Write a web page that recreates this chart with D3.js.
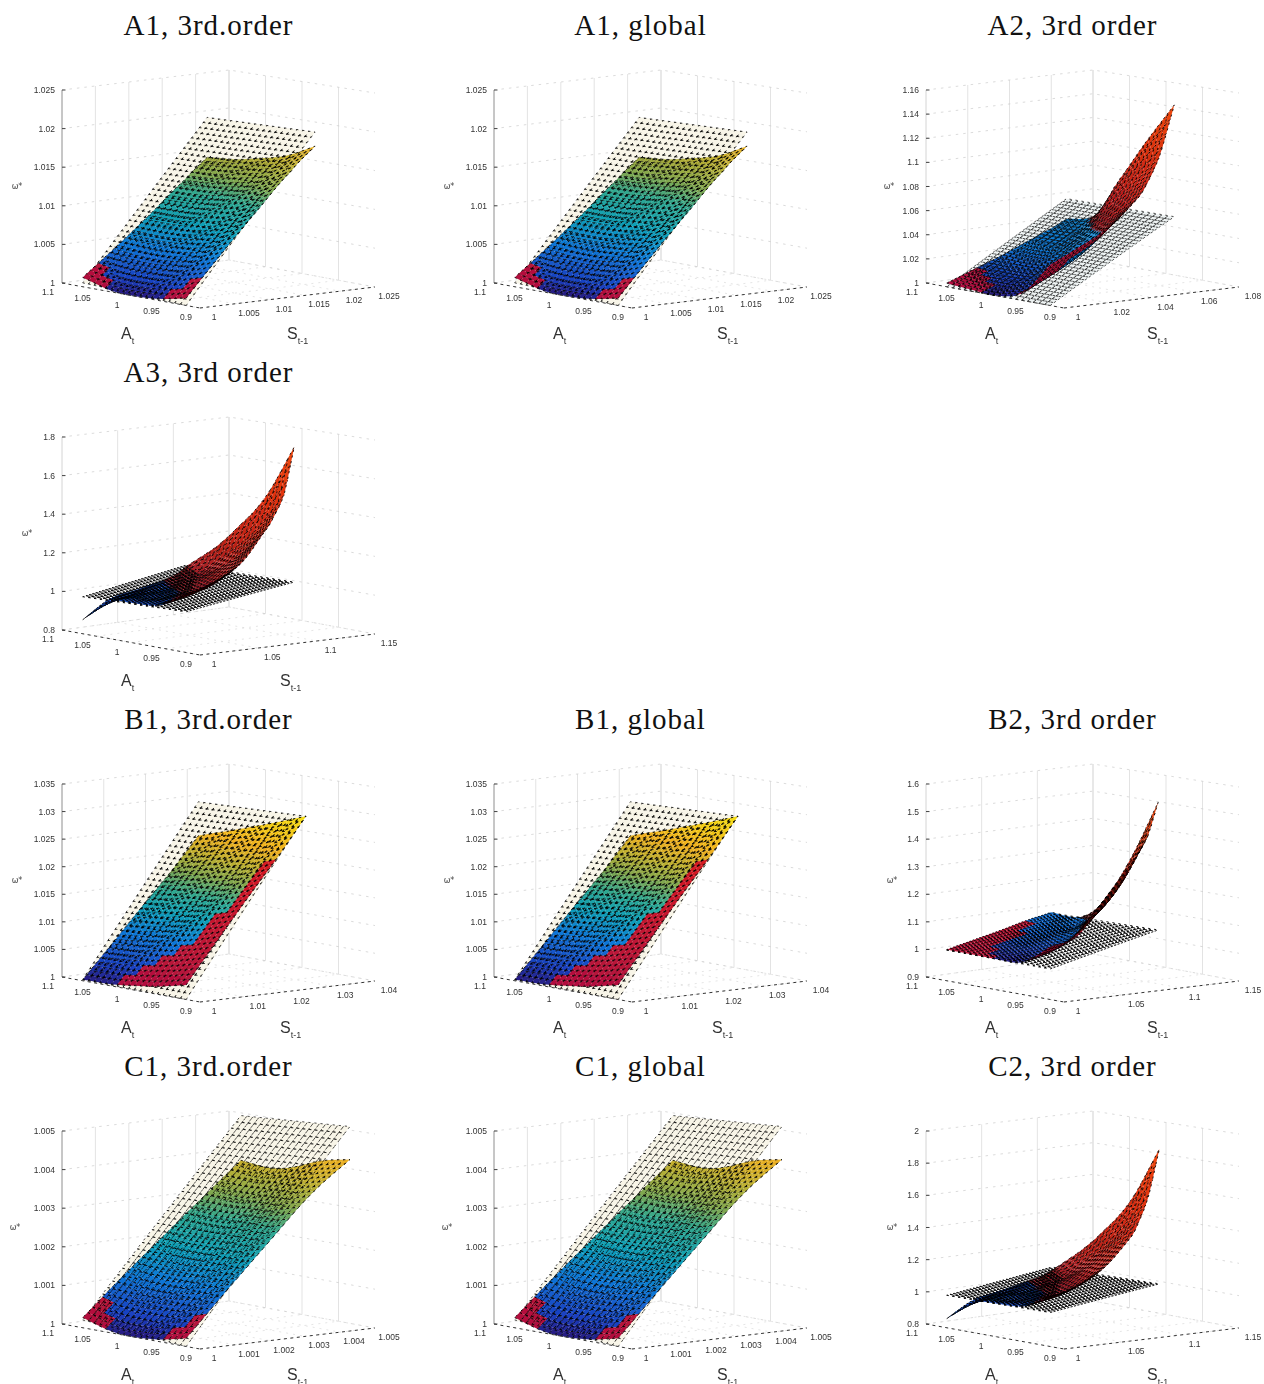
<!DOCTYPE html>
<html><head><meta charset="utf-8">
<script src="https://cdn.jsdelivr.net/npm/d3@7"></script>
<style>html,body{margin:0;padding:0;background:#fff;overflow:hidden}svg{display:block}</style>
</head><body><div id="chart"></div>
<script>
// ---------- shared ticks and knots ----------
const aTicks = [1.1, 1.05, 1, 0.95, 0.9];
const aKnots = [1.07, 1.03, 1, 0.96, 0.92];
const planeA = [1.07, 0.92];
const titles = ["A1, 3rd.order","A1, global","A2, 3rd order","A3, 3rd order","B1, 3rd.order","B1, global","B2, 3rd order","C1, 3rd.order","C1, global","C2, 3rd order"];

// A1
const a1SKnots = [1, 1.005, 1.01, 1.015, 1.0185];
const a1STicks = [1, 1.005, 1.01, 1.015, 1.02, 1.025];
const a1ZTicks = [1, 1.005, 1.01, 1.015, 1.02, 1.025];
const a1Surface = [
 [1.0012,1.0046,1.0082,1.0120,1.0147],
 [1.0002,1.0042,1.0081,1.0122,1.0150],
 [1.0000,1.0042,1.0084,1.0127,1.0156],
 [1.0002,1.0047,1.0091,1.0135,1.0165],
 [1.0009,1.0058,1.0106,1.0153,1.0183]];
const a1Plane = [[1.0005,1.0199],[1.0,1.0201]];
const a1MaskA = [1.07,1.05,1.022,1.0,0.96,0.94,0.92];
const a1MaskS = [1.0024,1.0018,1.0002,0.999,1.0002,1.0016,1.0024];
const a1ColorZ = [1,1.0015,1.005,1.008,1.011,1.013,1.016,1.0185,1.022];

// A2
const a2SKnots = [1,1.014,1.028,1.042,1.05,1.057];
const a2STicks = [1,1.02,1.04,1.06,1.08];
const a2ZTicks = [1,1.02,1.04,1.06,1.08,1.1,1.12,1.14,1.16];
const a2Surface = [
 [1.003,1.012,1.021,1.031,1.037,1.043],
 [1.001,1.010,1.019,1.031,1.040,1.050],
 [1.000,1.010,1.022,1.040,1.056,1.080],
 [1.006,1.018,1.033,1.058,1.082,1.117],
 [1.032,1.044,1.058,1.081,1.109,1.151]];
const a2Plane = [[1.0,1.06],[1.0,1.06]];
const a2MaskA = [1.07,1.05,1.03,1.01,1.0,0.965,0.95,0.92];
const a2MaskS = [1.014,1.012,1.006,1.001,0.99,1.0,1.01,1.035];
const a2ColorZ = [1,1.008,1.025,1.0459,1.046,1.07,1.11,1.15];
const a2ColorC = ["#28187a","#1a3fc0","#0f78d8","#1080c8","#8a1c24","#b81c1c","#d83010","#f04a10"];

// A3
const a3SKnots = [1,1.024,1.048,1.072,1.084,1.093];
const a3STicks = [1,1.05,1.1,1.15];
const a3ZTicks = [0.8,1,1.2,1.4,1.6,1.8];
const a3Surface = [
 [0.872,0.960,0.990,1.020,1.045,1.080],
 [0.990,1.000,1.010,1.050,1.100,1.200],
 [1.000,1.005,1.030,1.110,1.190,1.320],
 [1.010,1.040,1.090,1.220,1.330,1.500],
 [1.085,1.130,1.215,1.390,1.530,1.774]];
const a3Plane = [[0.99,1.085],[1.0,1.09]];
const a3ColorZ = [0.87,0.97,1.019,1.02,1.2,1.5,1.77];
const a3ColorC = ["#2060d8","#1448c0","#1040b0","#a02030","#b82018","#e03010","#f04a10"];

// B1
const b1SKnots = [1,1.007,1.014,1.021,1.0275];
const b1STicks = [1,1.01,1.02,1.03,1.04];
const b1ZTicks = [1,1.005,1.01,1.015,1.02,1.025,1.03,1.035];
const b1Surface = [
 [1.0002,1.0060,1.0119,1.0177,1.0236],
 [1.0003,1.0065,1.0127,1.0190,1.0252],
 [1.0007,1.0072,1.0136,1.0201,1.0265],
 [1.0014,1.0081,1.0148,1.0215,1.0282],
 [1.0025,1.0094,1.0163,1.0231,1.0300]];
const b1Plane = [[1.0002,1.0298],[1.0,1.0300]];
const b1MaskA = [1.022,0.995,0.968,0.951,0.942,0.929,0.92];
const b1MaskS = [1.0002,1.0028,1.0056,1.0092,1.014,1.0204,1.0213];
const b1ColorZ = [1,1.003,1.008,1.012,1.015,1.018,1.021,1.024,1.03];

// B2
const b2SKnots = [1,1.024,1.048,1.072,1.084,1.093];
const b2STicks = [1,1.05,1.1,1.15];
const b2ZTicks = [0.9,1,1.1,1.2,1.3,1.4,1.5,1.6];
const b2Surface = [
 [1.012,1.034,1.056,1.080,1.090,1.098],
 [1.010,1.032,1.053,1.075,1.088,1.098],
 [1.008,1.032,1.055,1.085,1.115,1.160],
 [1.012,1.040,1.090,1.180,1.240,1.330],
 [1.080,1.110,1.234,1.350,1.434,1.553]];
const b2Plane = [[1.01,1.096],[1.005,1.10]];
const b2MaskA = [1.07,1.05,1.03,1.01,1.0,0.96,0.94,0.92];
const b2MaskS = [1.07,1.065,1.02,1.002,0.99,1.002,1.02,1.035];
const b2ColorZ = [1,1.06,1.0999,1.1,1.3,1.55];
const b2ColorC = ["#28187a","#1060d0","#1070d0","#401010","#b02010","#f04a10"];

// C1
const c1SKnots = [1,1.0012,1.0024,1.0036,1.0047];
const c1STicks = [1,1.001,1.002,1.003,1.004,1.005];
const c1ZTicks = [1,1.001,1.002,1.003,1.004,1.005];
const c1Surface = [
 [1.00026,1.0012,1.0021,1.0030,1.00383],
 [1.00005,1.0010,1.0020,1.0029,1.00375],
 [1.00000,1.0010,1.0020,1.0030,1.00386],
 [1.00005,1.0011,1.0022,1.0033,1.00415],
 [1.00020,1.0013,1.0024,1.0035,1.00430]];
const c1Plane = [[1.0002,1.0050],[1.0,1.00515]];
const c1MaskA = [1.07,1.05,1.022,1.0,0.96,0.94,0.92];
const c1MaskS = [1.0006,1.0004,1.00005,0.999,1.00005,1.0004,1.0006];
const c1ColorZ = [1,1.0004,1.0012,1.0019,1.0026,1.0031,1.0037,1.0043,1.005];

// C2
const c2SKnots = [1,1.024,1.048,1.072,1.084,1.094];
const c2STicks = [1,1.05,1.1,1.15];
const c2ZTicks = [0.8,1,1.2,1.4,1.6,1.8,2];
const c2Surface = [
 [0.856,0.950,0.985,1.020,1.040,1.070],
 [0.985,1.000,1.010,1.050,1.120,1.220],
 [1.000,1.005,1.030,1.130,1.220,1.360],
 [1.010,1.040,1.100,1.270,1.390,1.580],
 [1.090,1.140,1.240,1.420,1.620,1.920]];
const c2Plane = [[1.0,1.09],[1.0,1.10]];
const c2ColorZ = [0.856,0.97,1.019,1.02,1.25,1.6,1.92];
const c2ColorC = ["#2060d8","#1448c0","#1040b0","#a02030","#b82018","#e03010","#f04a10"];

const coolColors = ["#28187a","#1a3fc0","#0f78d8","#0fa0b8","#30a890","#80a850","#c0b030","#f0b020","#f5e010"];
const maskColors = ["#b01040","#e82010"];

// ---------- panels ----------
const noMask = null;
const panels = [
 {c:0,r:0,s:a1STicks,z:a1ZTicks,k:a1SKnots,m:a1Surface,p:a1Plane,mA:a1MaskA,mS:a1MaskS,cZ:a1ColorZ,cC:coolColors,pf:"#f8f5e8",pw:0.7,lx:17,ax:"#aaa",sx:287},
 {c:1,r:0,s:a1STicks,z:a1ZTicks,k:a1SKnots,m:a1Surface,p:a1Plane,mA:a1MaskA,mS:a1MaskS,cZ:a1ColorZ,cC:coolColors,pf:"#f8f5e8",pw:0.7,lx:17,ax:"#aaa",sx:285},
 {c:2,r:0,s:a2STicks,z:a2ZTicks,k:a2SKnots,m:a2Surface,p:a2Plane,mA:a2MaskA,mS:a2MaskS,cZ:a2ColorZ,cC:a2ColorC,pf:"#eef3f3",pw:0.7,lx:25,ax:"#e4e4e4",sx:283},
 {c:0,r:1,s:a3STicks,z:a3ZTicks,k:a3SKnots,m:a3Surface,p:a3Plane,mA:noMask,mS:noMask,cZ:a3ColorZ,cC:a3ColorC,pf:"#ffffff",pw:0.9,lx:27,ax:"#e4e4e4",sx:280},
 {c:0,r:2,s:b1STicks,z:b1ZTicks,k:b1SKnots,m:b1Surface,p:b1Plane,mA:b1MaskA,mS:b1MaskS,cZ:b1ColorZ,cC:coolColors,pf:"#f8f5e8",pw:0.7,lx:17,ax:"#aaa",sx:280},
 {c:1,r:2,s:b1STicks,z:b1ZTicks,k:b1SKnots,m:b1Surface,p:b1Plane,mA:b1MaskA,mS:b1MaskS,cZ:b1ColorZ,cC:coolColors,pf:"#f8f5e8",pw:0.7,lx:17,ax:"#aaa",sx:280},
 {c:2,r:2,s:b2STicks,z:b2ZTicks,k:b2SKnots,m:b2Surface,p:b2Plane,mA:b2MaskA,mS:b2MaskS,cZ:b2ColorZ,cC:b2ColorC,pf:"#ffffff",pw:0.9,lx:28,ax:"#e4e4e4",sx:283},
 {c:0,r:3,s:c1STicks,z:c1ZTicks,k:c1SKnots,m:c1Surface,p:c1Plane,mA:c1MaskA,mS:c1MaskS,cZ:c1ColorZ,cC:coolColors,pf:"#f8f5e8",pw:0.7,lx:15,ax:"#aaa",sx:287},
 {c:1,r:3,s:c1STicks,z:c1ZTicks,k:c1SKnots,m:c1Surface,p:c1Plane,mA:c1MaskA,mS:c1MaskS,cZ:c1ColorZ,cC:coolColors,pf:"#f8f5e8",pw:0.7,lx:15,ax:"#aaa",sx:285},
 {c:2,r:3,s:c2STicks,z:c2ZTicks,k:c2SKnots,m:c2Surface,p:c2Plane,mA:noMask,mS:noMask,cZ:c2ColorZ,cC:c2ColorC,pf:"#ffffff",pw:0.9,lx:28,ax:"#e4e4e4",sx:283}
];

// ---------- layout ----------
const W = 1264, H = 1384, colX = 432, rowY = 347;
const L = {x:62,y:283,h:193}, F = {x:200,y:308,h:205}, B = {x:229,y:260,h:190}, R = {x:375,y:287,h:194};
const nA = 18, nS = 32, maskBlock = 2;

const svg = d3.select("#chart").append("svg").attr("width",W).attr("height",H);
const defs = svg.append("defs");
const addBlur=(id,sd)=>defs.append("filter").attr("id",id).attr("x","-5%").attr("y","-5%").attr("width","110%").attr("height","110%")
  .append("feGaussianBlur").attr("stdDeviation",sd);
addBlur("soft",0.65);
addBlur("softText",0.55);

const uOf = d3.scaleLinear().domain([1.1,0.9]).range([0,1]);
const pathOf = d3.line();

// Catmull-Rom through typed knots: a rendering curve, the values stay the typed ones.
function cr(p0,p1,p2,p3,t){return 0.5*((2*p1)+(-p0+p2)*t+(2*p0-5*p1+4*p2-p3)*t*t+(-p0+3*p1-3*p2+p3)*t*t*t);}
function pick(arr,i){
  const n=arr.length;
  if(i<0) return 2*arr[0]-arr[1];
  if(i>=n) return 2*arr[n-1]-arr[n-2];
  return arr[i];
}
function spline(arr,x){
  const i=Math.min(Math.floor(x),arr.length-2),t=x-i;
  return cr(pick(arr,i-1),arr[i],arr[i+1],pick(arr,i+2),t);
}
function sampler(rows,aK,sK){
  const ia=d3.scaleLinear().domain(aK).range(d3.range(aK.length)).clamp(true);
  const is=d3.scaleLinear().domain(sK).range(d3.range(sK.length)).clamp(true);
  return (a,s)=>{const x=is(s);return spline(rows.map(r=>spline(r,x)),ia(a));};
}

panels.forEach((p,idx)=>{
  const ox=p.c*colX, oy=p.r*rowY;
  const zDom=d3.extent(p.z), sDom=d3.extent(p.s);
  const vOf=d3.scaleLinear().domain(sDom).range([0,1]);
  const wOf=d3.scaleLinear().domain(zDom).range([0,1]);
  const mix=(k,u,v)=>(L[k]*(1-u)+F[k]*u)*(1-v)+(B[k]*(1-u)+R[k]*u)*v;
  const floor=(a,s)=>{const u=uOf(a),v=vOf(s);return {x:mix("x",u,v),y:mix("y",u,v),h:mix("h",u,v)};};
  const proj=(a,s,z)=>{const f=floor(a,s);return [f.x,f.y-wOf(z)*f.h];};

  svg.append("text").attr("x",ox+208.5).attr("y",oy+35).attr("text-anchor","middle")
    .attr("font-family","'Liberation Serif',serif").attr("font-size",29).attr("letter-spacing",1)
    .attr("fill","#111").text(titles[idx]);

  const g=svg.append("g").attr("transform",`translate(${ox},${oy})`).attr("filter","url(#soft)");
  const gt=svg.append("g").attr("transform",`translate(${ox},${oy})`).attr("filter","url(#softText)");

  // walls and floor grid
  const gridLine=(pts,stroke,dash,w)=>g.append("path").attr("d",pathOf(pts)).attr("fill","none")
    .attr("stroke",stroke).attr("stroke-width",w||0.8).attr("stroke-dasharray",dash||null);
  p.s.forEach(s=>{
    gridLine([proj(1.1,s,zDom[0]),proj(1.1,s,zDom[1])],"#dcdcdc");
    gridLine([proj(1.1,s,zDom[0]),proj(0.9,s,zDom[0])],"#dadada","2 5",0.7);
  });
  aTicks.slice(0,-1).forEach(a=>{
    gridLine([proj(a,sDom[1],zDom[0]),proj(a,sDom[1],zDom[1])],"#dcdcdc");
  });
  aTicks.forEach(a=>{
    gridLine([proj(a,sDom[0],zDom[0]),proj(a,sDom[1],zDom[0])],"#dadada","2 5",0.7);
  });
  p.z.forEach(z=>{
    gridLine([proj(1.1,sDom[0],z),proj(1.1,sDom[1],z),proj(0.9,sDom[1],z)],"#cccccc","2.5 5",0.7);
  });
  gridLine([proj(1.1,sDom[0],zDom[0]),proj(1.1,sDom[0],zDom[1])],p.ax,null,1.2);

  const sLo=p.k[0], sHi=p.k[p.k.length-1], aHi=aKnots[0], aLo=aKnots[aKnots.length-1];
  const zAt=sampler(p.m,aKnots,p.k), planeAt=sampler(p.p,planeA,[sLo,sHi]);

  // plane background, seen wherever the surface does not cover it
  g.append("path").attr("fill",p.pf)
    .attr("d",pathOf([[aHi,sLo],[aLo,sLo],[aLo,sHi],[aHi,sHi]].map(([a,s])=>proj(a,s,planeAt(a,s))))+"Z");

  // surface and wire plane, back to front
  const colorOf=d3.scaleLinear().domain(p.cZ).range(p.cC).clamp(true);
  const maskOf=p.mA?d3.scaleLinear().domain(p.mA).range(p.mS).clamp(true):null;
  const maskCol=d3.scaleLinear().domain([zDom[0],zDom[1]]).range(maskColors).clamp(true);
  const aEdge=d3.scaleLinear().domain([0,nA]).range([aHi,aLo]);
  const sEdge=d3.scaleLinear().domain([0,nS]).range([sLo,sHi]);
  const inMask=(i,j)=>{
    if(!maskOf) return false;
    const bi=(Math.floor(i/maskBlock)+0.5)*maskBlock, bj=(Math.floor(j/maskBlock)+0.5)*maskBlock;
    return sEdge(bj)<maskOf(aEdge(bi));
  };
  const quads=[];
  [["surface",zAt],["plane",planeAt]].forEach(([kind,fn])=>{
    d3.range(nA).forEach(i=>d3.range(nS).forEach(j=>{
      const a0=aEdge(i),a1=aEdge(i+1),s0=sEdge(j),s1=sEdge(j+1);
      const ac=(a0+a1)/2,sc=(s0+s1)/2,zc=fn(ac,sc),f=floor(ac,sc);
      let fill="none";
      if(kind==="surface") fill=inMask(i,j)?maskCol(zc):colorOf(zc);
      quads.push({kind,fill,key:f.y*5+wOf(zc)*f.h*0.2,
        pts:[proj(a0,s0,fn(a0,s0)),proj(a1,s0,fn(a1,s0)),proj(a1,s1,fn(a1,s1)),proj(a0,s1,fn(a0,s1))]});
    }));
  });
  quads.sort((x,y)=>d3.ascending(x.key,y.key));
  g.append("g").selectAll("path").data(quads).join("path")
    .attr("d",q=>pathOf(q.pts)+"Z")
    .attr("fill",q=>q.fill)
    .attr("stroke","#000")
    .attr("stroke-width",q=>q.kind==="plane"?p.pw:0.85)
    .attr("stroke-dasharray","2.2 3.6");

  // floor border on top
  gridLine([proj(1.1,sDom[0],zDom[0]),proj(0.9,sDom[0],zDom[0])],"#333","3 3.5",1);
  gridLine([proj(0.9,sDom[0],zDom[0]),proj(0.9,sDom[1],zDom[0])],"#333","3 3.5",1);

  // tick labels
  const lab=(x,y,t,anc)=>gt.append("text").attr("x",x).attr("y",y).attr("text-anchor",anc||"middle")
    .attr("font-family","'Liberation Sans',sans-serif").attr("font-size",8.5).attr("fill","#333").text(t);
  p.z.forEach(z=>{
    const q=proj(1.1,sDom[0],z);
    gridLine([q,[q[0]+3.5,q[1]]],"#444",null,1);
    lab(q[0]-7,q[1]+3,String(z),"end");
  });
  aTicks.forEach(a=>{
    const q=proj(a,sDom[0],zDom[0]);
    lab(q[0]-14,q[1]+12,String(a));
  });
  p.s.forEach(s=>{
    const q=proj(0.9,s,zDom[0]);
    lab(q[0]+14,q[1]+12,String(s));
  });

  // axis titles
  const big=(x,y,main,sub)=>{
    const t=gt.append("text").attr("x",x).attr("y",y).attr("font-family","'Liberation Sans',sans-serif")
      .attr("font-size",16).attr("fill","#333").text(main);
    t.append("tspan").attr("dy",5).attr("font-size",9).text(sub);
  };
  big(121,339,"A","t");
  big(p.sx,339,"S","t-1");
  gt.append("text").attr("x",p.lx).attr("y",189).attr("text-anchor","middle")
    .attr("font-family","'DejaVu Sans',sans-serif").attr("font-size",8).attr("fill","#444").text("ω*");
});
</script></body></html>
